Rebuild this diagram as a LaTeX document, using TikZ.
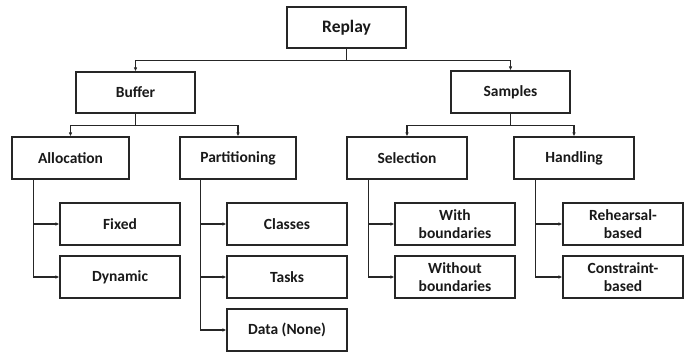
\documentclass[tikz,border=0pt]{standalone}
\usepackage{fontspec}
\setmainfont{Carlito}
\usetikzlibrary{arrows.meta}
\begin{document}
\begin{tikzpicture}[x=1pt,y=-1pt,
  box/.style={draw=black!85, line width=1.1pt, fill=white, inner sep=0pt,
    minimum width=120pt, minimum height=42pt, align=center,
    font=\fontsize{15.5}{18}\selectfont\bfseries, text=black!90},
  topbox/.style={box, font=\fontsize{17.5}{20}\selectfont\bfseries},
  arr/.style={draw=black!85, line width=1.1pt, -{Latex[length=4pt,width=3.5pt]}}
]
\useasboundingbox (0,0) rectangle (697,353);
\node[topbox, minimum width=119pt, minimum height=41pt] (replay) at (346.5,27.5) {Replay};
\node[box, minimum width=119pt, minimum height=41pt] (buffer) at (135.5,92.5) {Buffer};
\node[box, minimum width=119pt] (samples) at (510.5,92) {Samples};
\node[box, minimum width=117pt] (alloc) at (70.5,158) {Allocation};
\node[box, minimum width=116pt] (part) at (238,158) {Partitioning};
\node[box] (sel) at (407,158) {Selection};
\node[box] (hand) at (574,158) {Handling};
\node[box] (fixed) at (120,224) {Fixed};
\node[box] (dyn) at (120,277) {Dynamic};
\node[box] (classes) at (287,224) {Classes};
\node[box] (tasks) at (287,277) {Tasks};
\node[box] (data) at (287,330) {Data (None)};
\node[box] (withb) at (455,224) {With\\boundaries};
\node[box] (withoutb) at (455,277) {Without\\boundaries};
\node[box] (reh) at (623,224) {Rehearsal-\\based};
\node[box] (con) at (623,277) {Constraint-\\based};

\draw[arr] (replay.south) -- ++(0,12) -| (buffer.north);
\draw[arr] (replay.south) -- ++(0,12) -| (samples.north);
\draw[arr] (buffer.south) -- ++(0,12) -| (alloc.north);
\draw[arr] (buffer.south) -- ++(0,12) -| (part.north);
\draw[arr] (samples.south) -- ++(0,12) -| (sel.north);
\draw[arr] (samples.south) -- ++(0,12) -| (hand.north);

\coordinate (ta) at ([xshift=22pt]alloc.south west);
\coordinate (tp) at ([xshift=21pt]part.south west);
\coordinate (ts) at ([xshift=22pt]sel.south west);
\coordinate (th) at ([xshift=22pt]hand.south west);
\draw[arr] (ta) |- (fixed.west);
\draw[arr] (ta) |- (dyn.west);
\draw[arr] (tp) |- (classes.west);
\draw[arr] (tp) |- (tasks.west);
\draw[arr] (tp) |- (data.west);
\draw[arr] (ts) |- (withb.west);
\draw[arr] (ts) |- (withoutb.west);
\draw[arr] (th) |- (reh.west);
\draw[arr] (th) |- (con.west);
\end{tikzpicture}
\end{document}
